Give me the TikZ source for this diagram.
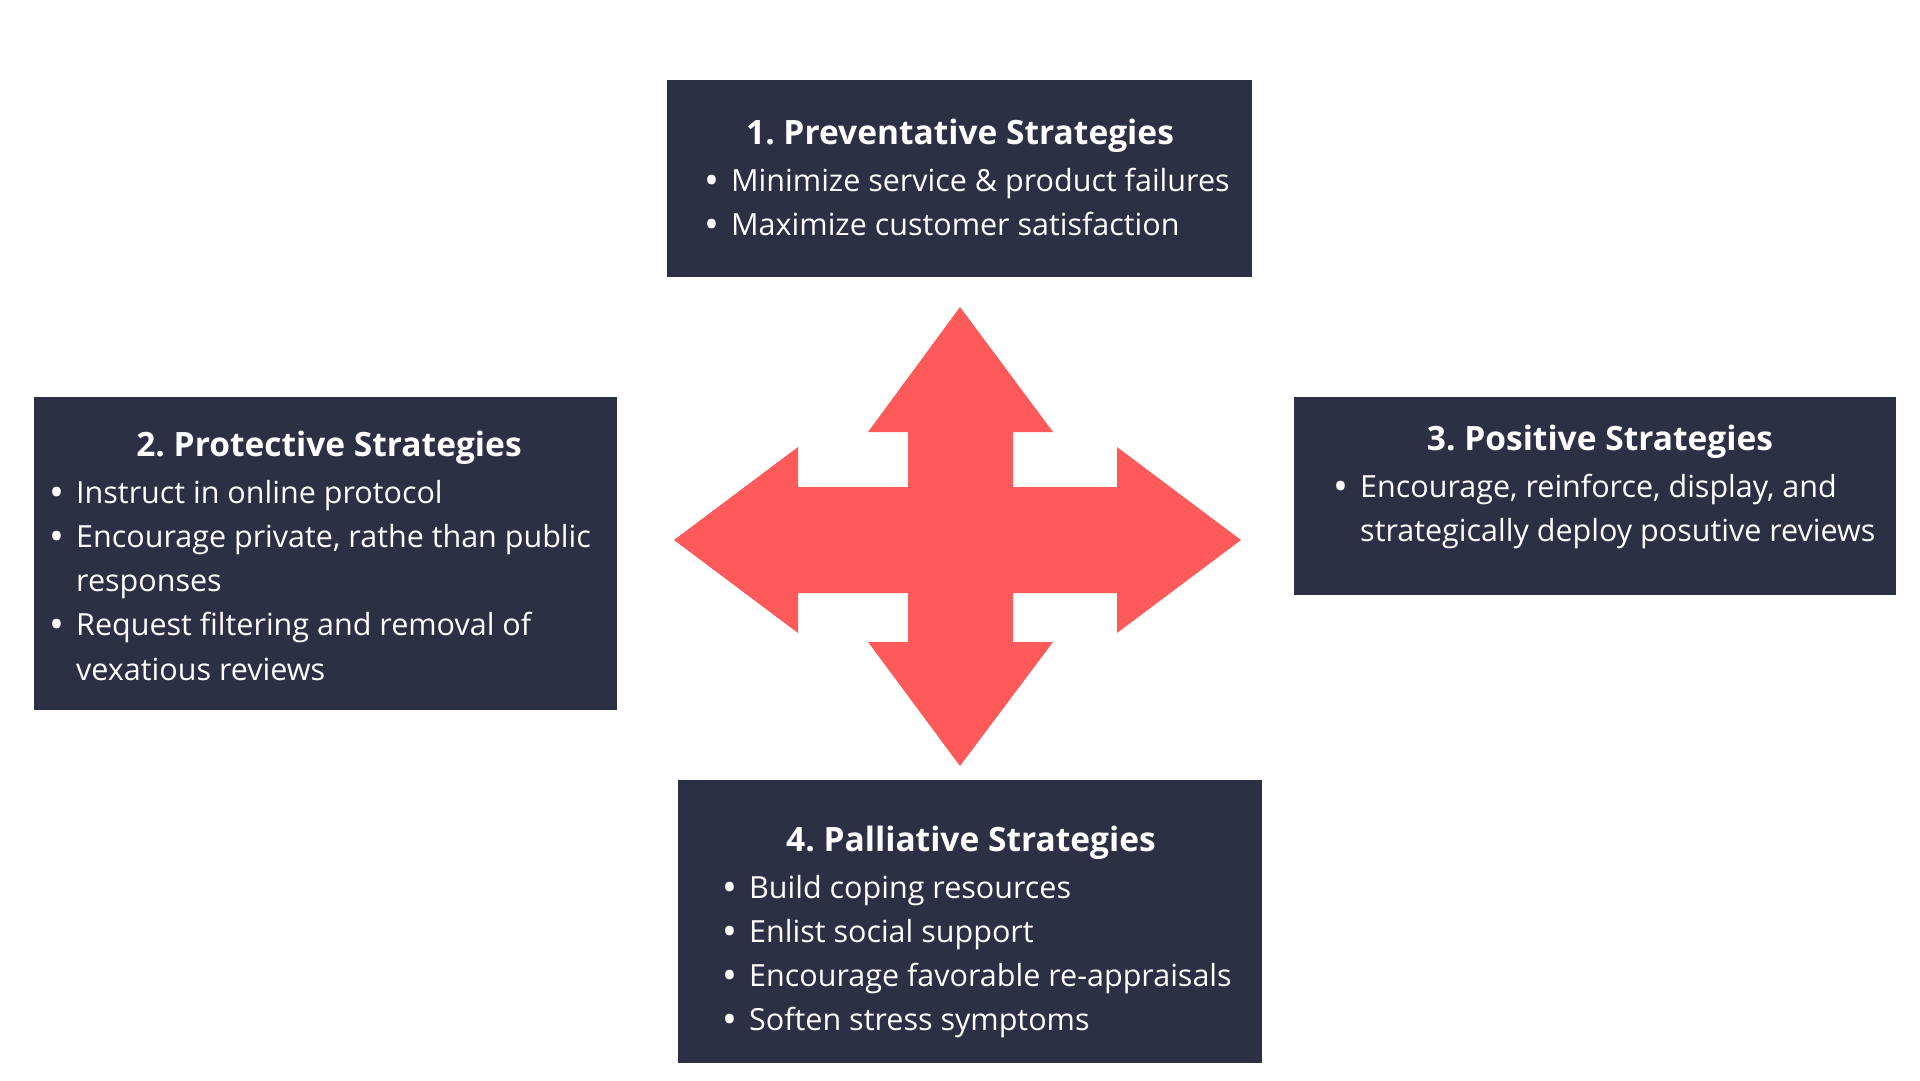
\documentclass[tikz,border=0pt]{standalone}
\usepackage{fontspec}
\setmainfont{Open Sans}
\frenchspacing
\definecolor{boxbg}{HTML}{2C3045}
\definecolor{arrowred}{HTML}{FF5A5A}
\tikzset{
  box/.style={fill=boxbg, draw=none, inner sep=0, anchor=north west},
  ttl/.style={text=white, font=\fontsize{33.5}{40}\selectfont\bfseries, inner sep=0, anchor=base},
  itm/.style={text=white, font=\fontsize{30.5}{36}\selectfont, inner sep=0, anchor=base west},
}
\newcommand{\bul}{\makebox[27pt][l]{\raisebox{-3pt}{\scalebox{1.3}{•}}}}
\begin{document}
\begin{tikzpicture}[x=1pt,y=-1pt]
\useasboundingbox (0,0) rectangle (1920,1080);
% boxes
\node[box, minimum width=585pt, minimum height=197pt] (b1) at (667,80) {};
\node[box, minimum width=583pt, minimum height=313pt] (b2) at (34,397) {};
\node[box, minimum width=602pt, minimum height=198pt] (b3) at (1294,397) {};
\node[box, minimum width=584pt, minimum height=283pt] (b4) at (678,780) {};
% arrow
\fill[arrowred] (960,307) -- (1053,432) -- (1013,432) -- (1013,487) -- (1117,487) -- (1117,447)
  -- (1241,540) -- (1117,633) -- (1117,593) -- (1013,593) -- (1013,642) -- (1053,642)
  -- (960,766) -- (868,642) -- (908,642) -- (908,593) -- (798,593) -- (798,633)
  -- (674,540) -- (798,447) -- (798,487) -- (908,487) -- (908,432) -- (868,432) -- cycle;
% box 1
\node[ttl] (t1) at (960,144) {1. Preventative Strategies};
\node[itm] (t1a) at (704,191) {\bul Minimize service \& product failures};
\node[itm] (t1b) at (704,235) {\bul Maximize customer satisfaction};
% box 2
\node[ttl] (t2) at (329,456) {2. Protective Strategies};
\node[itm] (t2a) at (49,503) {\bul Instruct in online protocol};
\node[itm] (t2b) at (49,547) {\bul Encourage private, rathe than public};
\node[itm] (t2c) at (76,591) {responses};
\node[itm] (t2d) at (49,635) {\bul Request filtering and removal of};
\node[itm] (t2e) at (76,680) {vexatious reviews};
% box 3
\node[ttl] (t3) at (1600,450) {3. Positive Strategies};
\node[itm] (t3a) at (1333,497) {\bul Encourage, reinforce, display, and};
\node[itm] (t3b) at (1360,541) {strategically deploy posutive reviews};
% box 4
\node[ttl] (t4) at (971,851) {4. Palliative Strategies};
\node[itm] (t4a) at (722,898) {\bul Build coping resources};
\node[itm] (t4b) at (722,942) {\bul Enlist social support};
\node[itm] (t4c) at (722,986) {\bul Encourage favorable re-appraisals};
\node[itm] (t4d) at (722,1030) {\bul Soften stress symptoms};
\end{tikzpicture}
\end{document}
